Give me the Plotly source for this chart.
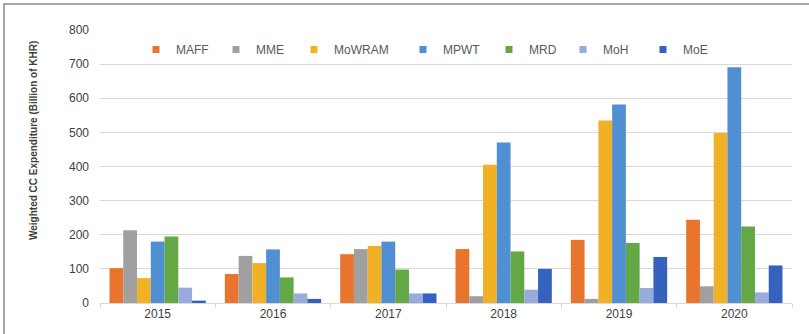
import plotly.graph_objects as go

years = ["2015", "2016", "2017", "2018", "2019", "2020"]

maff = [102, 85, 143, 158, 185, 244]
mme = [213, 138, 158, 20, 12, 49]
mowram = [73, 117, 167, 405, 535, 498]
mpwt = [180, 157, 180, 470, 582, 691]
mrd = [195, 75, 98, 151, 176, 224]
moh = [45, 28, 28, 39, 44, 31]
moe = [7, 12, 28, 100, 135, 110]

series = [
    ("MAFF", maff, "#E8742E"),
    ("MME", mme, "#A0A0A0"),
    ("MoWRAM", mowram, "#F0B126"),
    ("MPWT", mpwt, "#4F8FD2"),
    ("MRD", mrd, "#63A844"),
    ("MoH", moh, "#98ABDD"),
    ("MoE", moe, "#3462BE"),
]
# horizontal pixel position of each legend key
key_px = [160, 240, 318, 427, 513, 587, 667]

W, H = 809, 334
L, R, T, B = 100, 17, 30, 31
pw, ph = W - L - R, H - T - B
font = "Liberation Sans"

fig = go.Figure()
for name, vals, color in series:
    fig.add_trace(go.Bar(x=years, y=vals, name=name, marker_color=color,
                         marker_line_width=0, showlegend=False))

legends = {}
for i, ((name, vals, color), kx) in enumerate(zip(series, key_px)):
    lid = "legend" if i == 0 else f"legend{i + 1}"
    fig.add_trace(go.Scatter(x=[None], y=[None], mode="markers", name=name,
                             legend=lid,
                             marker=dict(symbol="square", size=7, color=color)))
    legends[lid] = dict(orientation="h", x=(kx - 24 - L) / pw, y=(303 - 35) / ph,
                        xanchor="left", yanchor="top", bgcolor="rgba(0,0,0,0)",
                        font=dict(family=font, size=12, color="#595959"),
                        itemsizing="trace")

fig.update_layout(
    width=W, height=H,
    margin=dict(l=L, r=R, t=T, b=B),
    paper_bgcolor="white", plot_bgcolor="white",
    barmode="group", bargap=0.165, bargroupgap=0,
    font=dict(family=font, size=12, color="#595959"),
    xaxis=dict(showgrid=False, showline=True, linecolor="#D9D9D9", linewidth=1,
               ticks="outside", tickson="boundaries", ticklen=4, tickcolor="#D9D9D9",
               tickfont=dict(family=font, size=12, color="#404040")),
    yaxis=dict(range=[0, 800], dtick=100, showgrid=True, gridcolor="#D9D9D9",
               gridwidth=1, zeroline=False, showline=False,
               ticklabelstandoff=10,
               tickfont=dict(family=font, size=12, color="#404040")),
    annotations=[dict(text="<b>Weighted CC Expenditure (Billion of KHR)</b>",
                      textangle=-90, xref="paper", yref="paper",
                      x=(33 - L) / pw, y=(303 - 141) / ph,
                      xanchor="center", yanchor="middle", showarrow=False,
                      font=dict(family=font, size=10, color="#404040"))],
    shapes=[dict(type="rect", xref="paper", yref="paper",
                 x0=(4 - L) / pw, x1=(830 - L) / pw,
                 y0=(303 - 345) / ph, y1=(303 - 4) / ph,
                 line=dict(color="#A6A6A6", width=2), layer="below")],
    **legends,
)

fig.write_html("out.html")
